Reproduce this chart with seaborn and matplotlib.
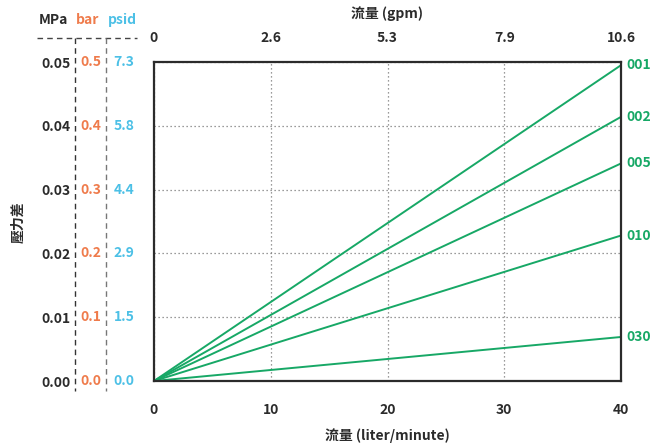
import pandas as pd
import matplotlib.pyplot as plt
import matplotlib.transforms as mtransforms
from matplotlib.lines import Line2D
import seaborn as sns

# Data
models = ['001', '002', '005', '010', '030']
flow_lpm = [0, 40]
dp_at_40 = [0.0495, 0.0414, 0.0341, 0.0228, 0.0069]   # MPa at 40 L/min

x_ticks = [0, 10, 20, 30, 40]
gpm_labels = ['0', '2.6', '5.3', '7.9', '10.6']
mpa_ticks = [0.00, 0.01, 0.02, 0.03, 0.04, 0.05]
mpa_labels = ['0.00', '0.01', '0.02', '0.03', '0.04', '0.05']
bar_labels = ['0.0', '0.1', '0.2', '0.3', '0.4', '0.5']
psid_labels = ['0.0', '1.5', '2.9', '4.4', '5.8', '7.3']

rows = []
for m, v in zip(models, dp_at_40):
    for f in flow_lpm:
        rows.append({'model': m, 'flow': f, 'dp': v * f / 40})
df = pd.DataFrame(rows)

GREEN = '#17a866'
ORANGE = '#ef7b4b'
BLUE = '#4cc0e6'
DARK = '#2b2b2b'
FS = 10

sns.set_theme(style='white')
plt.rcParams['font.family'] = ['Noto Sans CJK TC', 'DejaVu Sans']
plt.rcParams['font.weight'] = 'semibold'

fig = plt.figure(figsize=(6.52, 4.48), dpi=100)
ax = fig.add_axes([154 / 652, 1 - 381 / 448, (621 - 154) / 652, (381 - 62) / 448])

sns.lineplot(data=df, x='flow', y='dp', hue='model', palette=[GREEN] * len(models),
             legend=False, linewidth=1.4, ax=ax)

ax.set_xlim(0, 40)
ax.set_ylim(0, 0.05)
ax.set_xticks(x_ticks)
ax.set_xticklabels([str(t) for t in x_ticks], fontsize=FS, color=DARK)
ax.set_yticks(mpa_ticks)
ax.set_yticklabels(mpa_labels, fontsize=FS, color=DARK)
ax.set_xlabel('')
ax.set_ylabel('')
ax.tick_params(axis='x', direction='in', length=4, width=1, color=DARK, pad=16)
ax.tick_params(axis='y', direction='in', length=3, width=1, color=DARK, pad=60)
ax.grid(True, linestyle=(0, (1, 2.2)), color='#7a7a7a', linewidth=0.9)
for s in ax.spines.values():
    s.set_color(DARK)
    s.set_linewidth(1.6)

# top gpm axis
top = ax.secondary_xaxis('top')
top.set_xticks(x_ticks)
top.set_xticklabels(gpm_labels, fontsize=FS, color=DARK)
top.tick_params(length=0, pad=12)
top.spines['top'].set_visible(False)

# extra pressure scales on the left
trans = mtransforms.blended_transform_factory(fig.transFigure, ax.transData)
for y, b, p in zip(mpa_ticks, bar_labels, psid_labels):
    ax.text(91 / 652, y, b, transform=trans, ha='center', va='center',
            fontsize=FS, color=ORANGE, clip_on=False)
    ax.text(124 / 652, y, p, transform=trans, ha='center', va='center',
            fontsize=FS, color=BLUE, clip_on=False)

# model labels at line ends
for m, v in zip(models, dp_at_40):
    ax.annotate(m, xy=(40, v), xytext=(4, 0), textcoords='offset points',
                ha='left', va='center', fontsize=FS, color=GREEN,
                annotation_clip=False)

# dashed separators
fig.add_artist(Line2D([37 / 652, 137 / 652], [1 - 38 / 448] * 2, transform=fig.transFigure,
                      color='#444444', linestyle=(0, (4, 3)), linewidth=1))
fig.add_artist(Line2D([75 / 652] * 2, [1 - 38 / 448, 1 - 391 / 448], transform=fig.transFigure,
                      color='#333333', linestyle=(0, (4, 3)), linewidth=1))
fig.add_artist(Line2D([106 / 652] * 2, [1 - 38 / 448, 1 - 391 / 448], transform=fig.transFigure,
                      color='#777777', linestyle=(0, (4, 3)), linewidth=1))

# headers and axis titles
fig.text(53 / 652, 1 - 20 / 448, 'MPa', ha='center', va='center', fontsize=FS, color=DARK)
fig.text(88 / 652, 1 - 20 / 448, 'bar', ha='center', va='center', fontsize=FS, color=ORANGE)
fig.text(122 / 652, 1 - 20 / 448, 'psid', ha='center', va='center', fontsize=FS, color=BLUE)
fig.text(387 / 652, 1 - 14 / 448, '流量 (gpm)', ha='center', va='center', fontsize=FS, color=DARK)
fig.text(387 / 652, 1 - 436 / 448, '流量 (liter/minute)', ha='center', va='center', fontsize=FS, color=DARK)
fig.text(18 / 652, 1 - 222 / 448, '壓力差', ha='center', va='center', rotation=90,
         fontsize=FS, color=DARK)

fig.savefig('out.png', dpi=100)
